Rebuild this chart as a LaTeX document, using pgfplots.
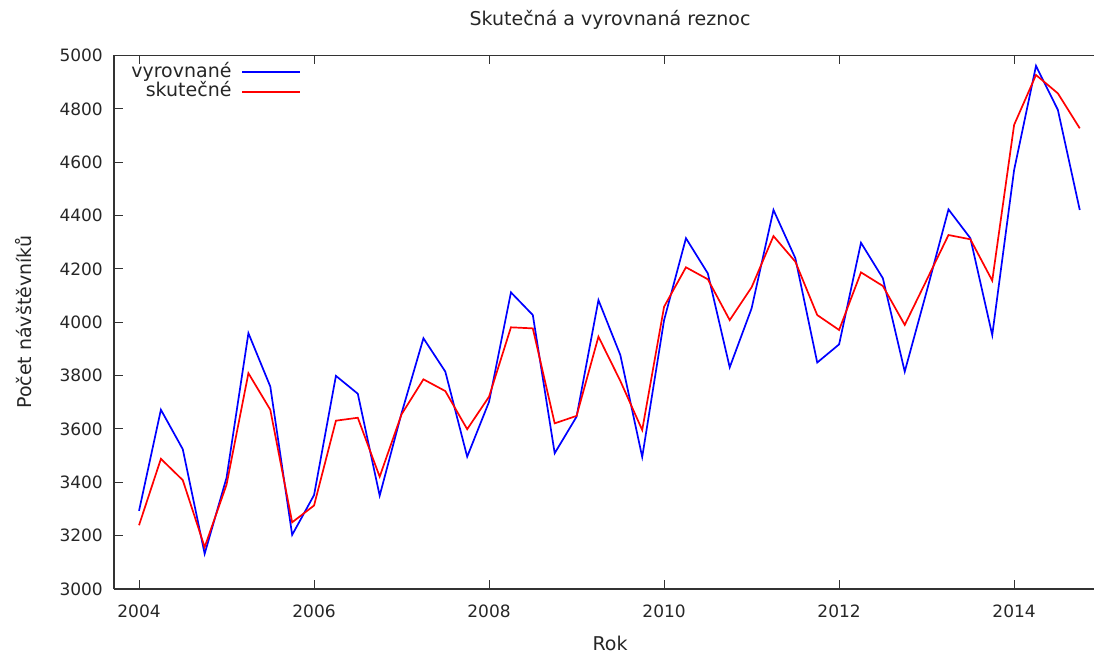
\documentclass[border=0pt]{standalone}
\usepackage{fontspec}
\setmainfont{DejaVu Sans}
\usepackage{pgfplots}
\pgfplotsset{compat=1.18}
\definecolor{gpred}{RGB}{255,0,0}
\definecolor{gpblue}{RGB}{0,0,255}
\begin{document}
\begin{tikzpicture}[x=1pt,y=1pt]
\begin{axis}[
  at={(114pt,64pt)}, anchor=south west,
  scale only axis, width=992pt, height=533.5pt,
  xmin=2003.714, xmax=2015.05, ymin=3000, ymax=5000,
  axis y line*=left,
  axis line style={black!80, line width=1.2pt},
  xtick={2004,2006,2008,2010,2012,2014},
  ytick={3000,3200,3400,3600,3800,4000,4200,4400,4600,4800,5000},
  xtick pos=both,
  tick align=inside,
  major tick length=9pt,
  every tick/.style={black!80, line width=1pt},
  /pgf/number format/assume math mode=true,
  /pgf/number format/1000 sep={},
  tick label style={font=\fontsize{17}{20}\selectfont, text=black!85},
  xticklabel style={anchor=base, inner sep=0pt, yshift=-28pt},
  yticklabel style={anchor=east, inner sep=0pt, xshift=-11pt},
  title={Skutečná a vyrovnaná reznoc},
  title style={font=\fontsize{19}{22}\selectfont, text=black!85, at={(axis description cs:0.5,1)}, anchor=base, yshift=24pt, inner sep=0pt},
  xlabel={Rok},
  xlabel style={font=\fontsize{19}{22}\selectfont, text=black!85, at={(axis description cs:0.5,0)}, anchor=base, yshift=-61pt, inner sep=0pt},
  ylabel={Počet návštěvníků},
  ylabel style={font=\fontsize{19}{22}\selectfont, text=black!85, at={(axis description cs:0,0.5)}, anchor=base, yshift=82pt, inner sep=0pt},
]
\addplot[color=gpblue, line width=1.7pt] coordinates {
(2004.00,3293) (2004.25,3672) (2004.50,3524) (2004.75,3132)
(2005.00,3417) (2005.25,3959) (2005.50,3759) (2005.75,3203)
(2006.00,3352) (2006.25,3799) (2006.50,3732) (2006.75,3350)
(2007.00,3659) (2007.25,3940) (2007.50,3815) (2007.75,3496)
(2008.00,3702) (2008.25,4112) (2008.50,4027) (2008.75,3509)
(2009.00,3646) (2009.25,4083) (2009.50,3877) (2009.75,3495)
(2010.00,4008) (2010.25,4315) (2010.50,4183) (2010.75,3831)
(2011.00,4052) (2011.25,4421) (2011.50,4240) (2011.75,3849)
(2012.00,3917) (2012.25,4298) (2012.50,4165) (2012.75,3815)
(2013.00,4115) (2013.25,4423) (2013.50,4315) (2013.75,3952)
(2014.00,4571) (2014.25,4961) (2014.50,4796) (2014.75,4421)
};
\addplot[color=gpred, line width=1.7pt] coordinates {
(2004.00,3239) (2004.25,3488) (2004.50,3408) (2004.75,3157)
(2005.00,3391) (2005.25,3809) (2005.50,3672) (2005.75,3250)
(2006.00,3313) (2006.25,3631) (2006.50,3642) (2006.75,3421)
(2007.00,3655) (2007.25,3786) (2007.50,3742) (2007.75,3599)
(2008.00,3721) (2008.25,3981) (2008.50,3977) (2008.75,3621)
(2009.00,3649) (2009.25,3946) (2009.50,3780) (2009.75,3596)
(2010.00,4058) (2010.25,4206) (2010.50,4161) (2010.75,4008)
(2011.00,4131) (2011.25,4323) (2011.50,4227) (2011.75,4027)
(2012.00,3971) (2012.25,4187) (2012.50,4136) (2012.75,3990)
(2013.00,4158) (2013.25,4327) (2013.50,4311) (2013.75,4156)
(2014.00,4740) (2014.25,4927) (2014.50,4858) (2014.75,4727)
};
% legend (gnuplot style: text on the left, sample line on the right)
\node[anchor=base east, inner sep=0pt, font=\fontsize{19}{22}\selectfont, text=black!85]
  at ([xshift=117.7pt,yshift=-22pt]axis description cs:0,1) {vyrovnané};
\node[anchor=base east, inner sep=0pt, font=\fontsize{19}{22}\selectfont, text=black!85]
  at ([xshift=117.7pt,yshift=-41.5pt]axis description cs:0,1) {skutečné};
\fill[gpblue] ([xshift=128pt,yshift=-17.35pt]axis description cs:0,1) rectangle ([xshift=186pt,yshift=-15.65pt]axis description cs:0,1);
\fill[gpred] ([xshift=128pt,yshift=-37.05pt]axis description cs:0,1) rectangle ([xshift=186pt,yshift=-35.35pt]axis description cs:0,1);
\end{axis}
\pgfresetboundingbox
\path[use as bounding box] (0pt,0pt) rectangle (1094pt,653pt);
\end{tikzpicture}
\end{document}
